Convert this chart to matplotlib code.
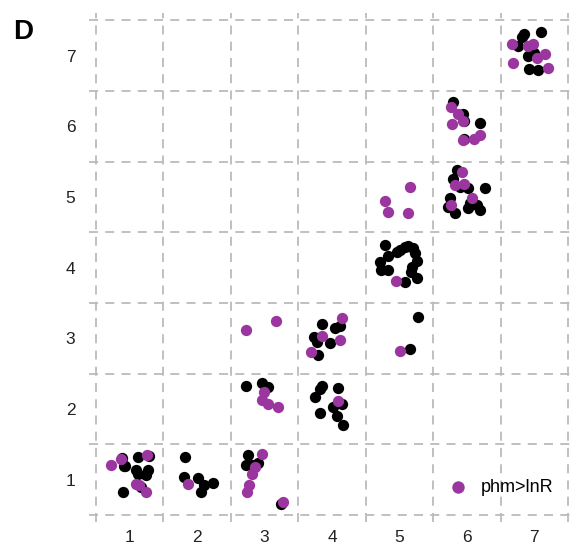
import matplotlib.pyplot as plt
import numpy as np

# --- Data (x, y per group) ---
black_x = [0.91, 0.89, 0.93, 1.12, 1.28, 1.10, 1.27, 1.24, 1.12, 1.16, 0.90,
           1.82, 1.80, 2.01, 2.10, 2.23, 2.05,
           2.75, 2.72, 2.81, 2.90, 3.24,
           2.72, 2.96, 3.05,
           3.85, 3.82, 3.74, 4.09, 4.01, 4.15, 3.82, 4.07, 4.16,
           3.85, 4.04, 4.12, 3.73, 3.77, 3.97, 3.79,
           5.27, 5.15,
           4.78, 4.83, 4.71, 4.72, 4.83, 4.96, 5.01, 5.08, 5.12, 5.20, 5.23, 5.26, 5.19, 5.17, 5.26, 5.08,
           5.85, 5.79, 5.90, 6.01, 6.27, 5.75, 6.04, 6.15, 6.19, 5.72, 5.82, 6.01,
           5.79, 5.94, 5.96, 6.19, 5.96,
           6.85, 7.10, 6.82, 6.76, 6.90, 7.00, 6.92, 7.05]
black_y = [1.20, 1.31, 1.20, 1.32, 1.34, 1.14, 1.14, 1.06, 1.08, 0.89, 0.82,
           1.32, 1.04, 1.03, 0.92, 0.96, 0.82,
           1.35, 1.21, 1.21, 1.24, 0.65,
           2.33, 2.37, 2.31,
           2.33, 2.28, 2.17, 2.30, 2.03, 2.07, 1.95, 1.90, 1.78,
           3.20, 3.15, 3.18, 3.02, 2.95, 2.94, 2.77,
           3.30, 2.85,
           4.32, 4.16, 4.08, 3.97, 3.97, 4.22, 4.25, 4.29, 4.31, 4.28, 4.21, 4.09, 4.01, 3.94, 3.85, 3.80,
           5.38, 5.25, 5.14, 5.12, 5.12, 4.98, 4.91, 4.88, 4.81, 4.86, 4.77, 4.84,
           6.34, 6.18, 6.08, 6.04, 5.82,
           7.31, 7.33, 7.26, 7.14, 7.00, 7.03, 6.81, 6.79]

purple_x = [0.72, 0.87, 1.25, 1.10, 1.13, 1.24,
            1.86,
            2.96, 2.85, 2.81, 2.77, 2.74, 3.27,
            2.99, 2.96, 3.05, 3.20,
            4.09,
            2.72, 3.17,
            4.15, 3.85, 4.12, 3.69,
            5.01,
            4.95,
            5.15, 4.78, 4.83, 5.12,
            5.92, 5.82, 5.96, 6.07, 5.76,
            5.76, 5.87, 5.94, 5.78, 5.94, 6.10, 6.19,
            6.67, 6.91, 6.98, 7.04, 7.16, 6.68, 7.20]
purple_y = [1.21, 1.29, 1.35, 0.94, 0.93, 0.82,
            0.94,
            1.37, 1.18, 1.08, 0.92, 0.83, 0.69,
            2.24, 2.13, 2.07, 2.03,
            2.12,
            3.12, 3.25,
            3.29, 3.03, 2.98, 2.81,
            2.82,
            3.81,
            5.14, 4.94, 4.79, 4.77,
            5.35, 5.17, 5.18, 4.98, 4.88,
            6.27, 6.18, 6.07, 6.03, 5.80, 5.82, 5.87,
            7.16, 7.14, 7.17, 6.97, 7.02, 6.89, 6.82]

ticks = [1, 2, 3, 4, 5, 6, 7]
purple = '#9b359f'

plt.rcParams['font.family'] = ['Liberation Sans', 'DejaVu Sans']
fig = plt.figure(figsize=(5.76, 5.49), dpi=100)
ax = fig.add_axes([0.155, 0.049, 0.843, 0.927])

ax.scatter(black_x, black_y, s=66, color='black', linewidths=0, zorder=3)
ax.scatter(purple_x, purple_y, s=66, color=purple, linewidths=0, zorder=4,
           label='phm>lnR')

ax.set_xlim(0.4, 7.6)
ax.set_ylim(0.4, 7.6)
ax.set_xticks(ticks)
ax.set_yticks(ticks)
ax.set_xticks(np.arange(0.5, 8, 1), minor=True)
ax.set_yticks(np.arange(0.5, 8, 1), minor=True)
ax.tick_params(which='both', length=0, labelsize=12.5, colors='#222222')
ax.tick_params(axis='x', pad=6)
ax.tick_params(axis='y', pad=10)
ax.grid(which='minor', color='#bbbbbb', linestyle=(0, (5, 4)), linewidth=1.3)
ax.grid(which='major', visible=False)
for s in ax.spines.values():
    s.set_visible(False)

ax.legend(loc='lower right', bbox_to_anchor=(0.99, 0.02), frameon=False,
          fontsize=13, handletextpad=0.3, markerscale=1.1)

fig.text(0.022, 0.965, 'D', fontsize=20, fontweight='bold', va='top', ha='left')

plt.savefig('out.png', dpi=100)
